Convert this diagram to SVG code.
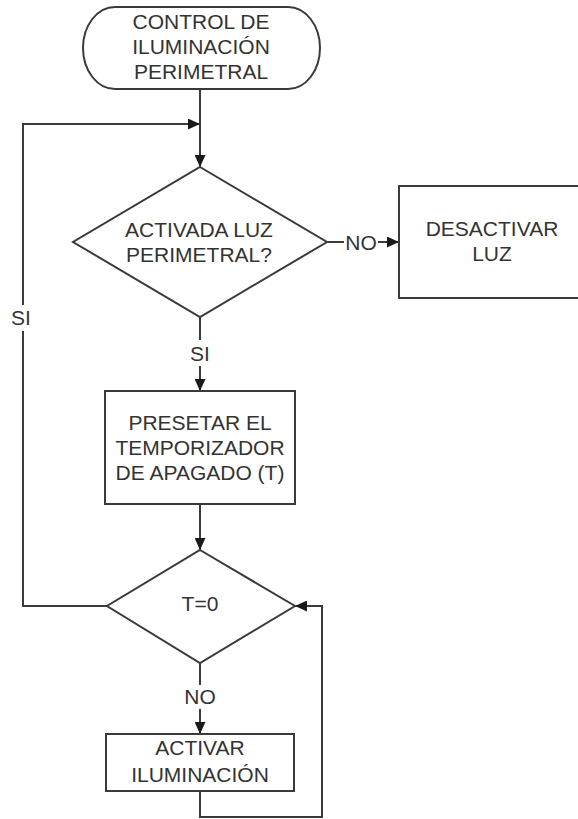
<svg xmlns="http://www.w3.org/2000/svg" width="578" height="819" viewBox="0 0 578 819">
  <style>
    .shape { fill: #ffffff; stroke: #3a3a3a; stroke-width: 2; }
    .line { fill: none; stroke: #3a3a3a; stroke-width: 2; }
    text { font-family: "Liberation Sans", Arial, sans-serif; font-size: 21px; fill: #333333; text-anchor: middle; }
  </style>
  <defs>
    <marker id="arrow" markerUnits="userSpaceOnUse" markerWidth="13" markerHeight="11" refX="12" refY="5.5" orient="auto">
      <path d="M0,0 L12,5.5 L0,11 Z" fill="#1a1a1a"/>
    </marker>
  </defs>

  <rect width="578" height="819" fill="#ffffff"/>

  <!-- connectors -->
  <g id="connectors">
    <path class="line" d="M200,89 V167" marker-end="url(#arrow)"/>
    <path class="line" d="M107,606 H23 V331"/>
    <path class="line" d="M23,305 V124 H200" marker-end="url(#arrow)"/>
    <path class="line" d="M327,242 H344"/>
    <path class="line" d="M378,242 H399" marker-end="url(#arrow)"/>
    <path class="line" d="M200,317 V340"/>
    <path class="line" d="M200,366 V391" marker-end="url(#arrow)"/>
    <path class="line" d="M200,504 V550" marker-end="url(#arrow)"/>
    <path class="line" d="M200,663 V685"/>
    <path class="line" d="M200,709 V734" marker-end="url(#arrow)"/>
    <path class="line" d="M200,791 V817 H322 V606 H295" marker-end="url(#arrow)"/>
    <text x="21" y="325">SI</text>
    <text x="361" y="250">NO</text>
    <text x="200" y="361">SI</text>
    <text x="200" y="704">NO</text>
  </g>

  <g id="start">
    <rect class="shape" x="83" y="7" width="237" height="82" rx="32" ry="41"/>
    <text x="201" y="29">CONTROL DE</text>
    <text x="201" y="54">ILUMINACIÓN</text>
    <text x="201" y="79">PERIMETRAL</text>
  </g>

  <g id="check-light">
    <polygon class="shape" points="200,167 327,242 200,317 73,242"/>
    <text x="199" y="237">ACTIVADA LUZ</text>
    <text x="199" y="262">PERIMETRAL?</text>
  </g>

  <g id="deactivate">
    <rect class="shape" x="399" y="186" width="190" height="112"/>
    <text x="492" y="236">DESACTIVAR</text>
    <text x="492" y="261">LUZ</text>
  </g>

  <g id="preset-timer">
    <rect class="shape" x="105" y="391" width="190" height="113"/>
    <text x="200" y="430">PRESETAR EL</text>
    <text x="200" y="455">TEMPORIZADOR</text>
    <text x="200" y="480">DE APAGADO (T)</text>
  </g>

  <g id="check-timer">
    <polygon class="shape" points="200,550 295,606 200,663 107,606"/>
    <text x="200" y="611">T=0</text>
  </g>

  <g id="activate">
    <rect class="shape" x="106" y="734" width="188" height="57"/>
    <text x="200" y="755">ACTIVAR</text>
    <text x="200" y="782">ILUMINACIÓN</text>
  </g>
</svg>
